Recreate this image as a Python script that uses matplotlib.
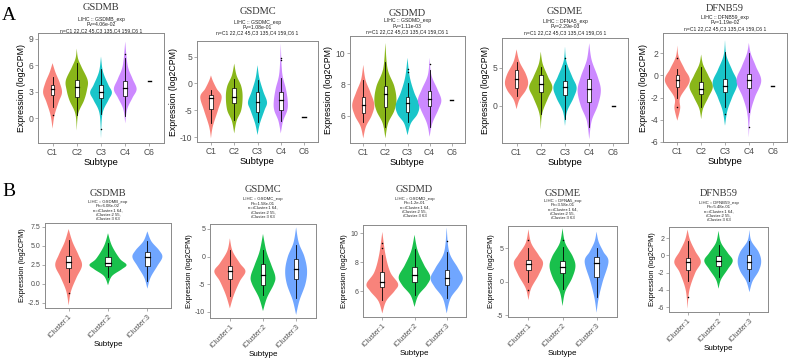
import numpy as np
import matplotlib
matplotlib.use("Agg")
import matplotlib.pyplot as plt

plt.rcParams["font.family"] = ["Liberation Sans", "DejaVu Sans"]
plt.rcParams["axes.unicode_minus"] = False

# ---- data ----
a_categories = ["C1", "C2", "C3", "C4", "C6"]
b_categories = ["iCluster:1", "iCluster:2", "iCluster:3"]
genes = ["GSDMB", "GSDMC", "GSDMD", "GSDME", "DFNB59"]
exp_names = ["GSDMB_exp", "GSDMC_exp", "GSDMD_exp", "DFNA5_exp", "DFNB59_exp"]
a_pvalues = ["4.06e-02", "1.08e-01", "1.11e-03", "2.29e-03", "1.19e-02"]
b_pvalues = ["6.08e-02", "1.58e-01", "1.2e-01", "3.58e-01", "5.48e-01"]
a_counts = "n=C1 22,C2 45,C3 135,C4 159,C6 1"
b_counts = "n=iCluster:1 64,\niCluster:2 55,\niCluster:3 63"

# violin outlines: (value, half width) knots from bottom tip to top tip
gsdmb_a_violin = [
    [[-1.2, 0], [0.3, 0.08], [1.8, 0.25], [2.9, 0.39], [4.0, 0.3], [5.2, 0.12], [6.25, 0]],
    [[-1.4, 0], [0.5, 0.06], [2.0, 0.3], [3.2, 0.42], [4.3, 0.45], [5.8, 0.2], [6.8, 0.05], [7.9, 0]],
    [[-2.3, 0], [0.5, 0.06], [2.0, 0.3], [2.9, 0.45], [3.8, 0.3], [5.3, 0.08], [7.0, 0]],
    [[-0.6, 0], [1.0, 0.08], [2.3, 0.3], [3.3, 0.47], [4.5, 0.3], [6.0, 0.1], [8.7, 0]],
]
gsdmc_a_violin = [
    [[-10.2, 0], [-8, 0.08], [-5, 0.3], [-2.5, 0.46], [-1, 0.25], [0.5, 0.08], [1.5, 0]],
    [[-9.3, 0], [-7, 0.1], [-5, 0.3], [-2.5, 0.36], [-0.5, 0.3], [1.5, 0.1], [3.7, 0]],
    [[-9.6, 0], [-7.5, 0.1], [-5, 0.3], [-3.5, 0.41], [-1.5, 0.25], [1, 0.08], [3.4, 0]],
    [[-9.3, 0], [-7, 0.1], [-5, 0.28], [-3.3, 0.3], [-1.0, 0.22], [2, 0.06], [7.4, 0]],
]
gsdmd_a_violin = [
    [[4.55, 0], [5.3, 0.12], [6.0, 0.38], [6.7, 0.5], [7.5, 0.32], [8.3, 0.1], [9.25, 0]],
    [[4.55, 0], [5.5, 0.12], [6.3, 0.4], [7.0, 0.5], [7.9, 0.4], [9.0, 0.1], [10.65, 0]],
    [[4.75, 0], [5.5, 0.15], [6.1, 0.45], [6.7, 0.53], [7.5, 0.3], [8.5, 0.1], [9.7, 0]],
    [[4.65, 0], [5.5, 0.12], [6.4, 0.4], [7.0, 0.53], [7.7, 0.35], [8.6, 0.08], [9.7, 0]],
]
gsdme_a_violin = [
    [[-0.45, 0], [0.8, 0.12], [2.0, 0.38], [3.0, 0.48], [4.2, 0.38], [5.8, 0.12], [7.4, 0]],
    [[-3.1, 0], [-1, 0.06], [1.0, 0.3], [2.4, 0.48], [3.8, 0.3], [5.5, 0.08], [7.1, 0]],
    [[-2.65, 0], [-0.8, 0.08], [1.0, 0.35], [2.4, 0.48], [3.8, 0.3], [5.8, 0.06], [7.75, 0]],
    [[-4.4, 0], [-2, 0.1], [0, 0.35], [2.0, 0.48], [3.8, 0.35], [6.0, 0.1], [8.2, 0]],
]
dfnb59_a_violin = [
    [[-4.1, 0], [-3.0, 0.12], [-2.0, 0.12], [-0.5, 0.52], [0.6, 0.3], [1.7, 0.06], [2.7, 0]],
    [[-3.95, 0], [-3.0, 0.08], [-2.0, 0.3], [-1.0, 0.49], [0, 0.3], [1.0, 0.08], [1.9, 0]],
    [[-4.55, 0], [-3.2, 0.1], [-2.0, 0.3], [-0.7, 0.52], [0.5, 0.3], [1.8, 0.06], [3.2, 0]],
    [[-5.6, 0], [-3.5, 0.06], [-2.0, 0.25], [-0.5, 0.52], [0.8, 0.3], [2.0, 0.08], [2.95, 0]],
]
gsdmb_b_violin = [
    [[-2.85, 0], [-1, 0.06], [0.8, 0.2], [2.4, 0.34], [3.8, 0.25], [5.5, 0.1], [7.2, 0]],
    [[-0.2, 0], [1.0, 0.1], [1.9, 0.35], [2.5, 0.47], [3.3, 0.3], [5.0, 0.1], [6.65, 0]],
    [[-0.65, 0], [0.8, 0.08], [2.3, 0.25], [3.5, 0.38], [4.4, 0.3], [5.6, 0.1], [6.9, 0]],
]
gsdmc_b_violin = [
    [[-9.4, 0], [-7, 0.12], [-4.5, 0.3], [-2.7, 0.47], [-1.2, 0.3], [1.0, 0.08], [3.3, 0]],
    [[-9.9, 0], [-7.5, 0.12], [-5, 0.33], [-3.6, 0.37], [-1.5, 0.25], [1, 0.1], [4.1, 0]],
    [[-10.6, 0], [-8, 0.1], [-5, 0.28], [-2.5, 0.33], [0, 0.25], [2.5, 0.08], [5.3, 0]],
]
gsdmd_b_violin = [
    [[4.45, 0], [5.3, 0.12], [6.0, 0.38], [6.5, 0.49], [7.3, 0.25], [8.5, 0.1], [10.1, 0]],
    [[4.9, 0], [5.7, 0.12], [6.4, 0.38], [7.0, 0.49], [7.8, 0.3], [8.8, 0.1], [9.9, 0]],
    [[4.45, 0], [5.5, 0.12], [6.3, 0.38], [6.9, 0.5], [7.6, 0.35], [8.7, 0.08], [10.4, 0]],
]
gsdme_b_violin = [
    [[-2.75, 0], [-1, 0.08], [1.0, 0.3], [2.75, 0.43], [4.0, 0.3], [5.8, 0.08], [7.85, 0]],
    [[-3.65, 0], [-1.5, 0.08], [0.5, 0.28], [2.3, 0.38], [3.8, 0.3], [5.8, 0.08], [8.0, 0]],
    [[-4.65, 0], [-2.5, 0.06], [0, 0.18], [3.0, 0.35], [4.5, 0.2], [6, 0.06], [7.5, 0]],
]
dfnb59_b_violin = [
    [[-6.15, 0], [-4, 0.06], [-2.0, 0.25], [-0.75, 0.43], [0.5, 0.25], [1.8, 0.08], [3.0, 0]],
    [[-3.85, 0], [-2.8, 0.08], [-1.6, 0.3], [-0.6, 0.46], [0.3, 0.3], [1.5, 0.08], [2.85, 0]],
    [[-4.25, 0], [-3.0, 0.1], [-1.8, 0.3], [-0.7, 0.38], [0.4, 0.3], [1.7, 0.06], [2.95, 0]],
]

# box stats: lower whisker, q1, median, q3, upper whisker
gsdmb_a_box = [[1.3, 2.6, 3.25, 3.75, 4.7], [0.3, 2.4, 3.55, 4.3, 6.3], [0.5, 2.3, 3.0, 3.8, 5.6], [0.2, 2.5, 3.4, 4.2, 6.8]]
gsdmc_a_box = [[-7.4, -4.8, -2.8, -2.2, -1.25], [-6.8, -3.7, -2.5, -0.9, 0.9], [-7.2, -5.3, -3.4, -1.6, 0.6], [-7.0, -5.0, -3.1, -1.6, 1.0]]
gsdmd_a_box = [[5.6, 6.2, 6.7, 7.2, 8.3], [5.3, 6.55, 7.4, 7.9, 9.45], [5.6, 6.25, 6.8, 7.2, 8.1], [5.3, 6.6, 7.05, 7.6, 8.9]]
gsdme_a_box = [[1.3, 2.35, 3.45, 4.65, 5.75], [-1.1, 1.75, 2.9, 4.0, 5.1], [-1.75, 1.35, 2.5, 3.3, 5.3], [-2.75, 0.45, 2.2, 3.5, 5.3]]
dfnb59_a_box = [[-2.0, -1.0, -0.45, 0.0, 0.6], [-2.9, -1.65, -1.2, -0.55, 0.75], [-2.9, -1.5, -0.95, -0.3, 2.1], [-3.3, -1.1, -0.45, 0.15, 2.0]]
gsdmb_b_box = [[0.2, 2.1, 2.85, 3.7, 5.7], [0.9, 2.3, 2.7, 3.5, 5.3], [0.3, 2.3, 3.5, 4.15, 5.6]]
gsdmc_b_box = [[-7.15, -4.05, -2.55, -1.7, 1.1], [-7.0, -5.1, -3.4, -1.3, 1.2], [-7.45, -4.1, -2.3, -0.5, 2.1]]
gsdmd_b_box = [[5.35, 6.3, 6.65, 7.3, 8.5], [5.7, 6.6, 7.1, 7.65, 8.95], [5.5, 6.4, 6.9, 7.45, 8.7]]
gsdme_b_box = [[0.0, 1.75, 2.65, 3.25, 5.0], [-1.15, 1.25, 2.25, 3.15, 5.25], [-2.25, 0.65, 2.85, 3.75, 5.0]]
dfnb59_b_box = [[-2.9, -1.65, -0.75, -0.25, 1.65], [-2.5, -1.2, -0.6, -0.1, 1.2], [-2.9, -1.6, -0.75, 0.05, 1.65]]

# outlier points per group
gsdmb_a_out = [[0.35], [], [-1.2], [7.3]]
gsdmc_a_out = [[], [], [], [4.3, 4.8]]
gsdmd_a_out = [[], [], [8.8, 9.0], [9.3]]
gsdme_a_out = [[], [], [6.3], []]
dfnb59_a_out = [[1.6, -2.9], [], [-3.5], [-4.7]]
gsdmb_b_out = [[-1.2], [], []]
gsdmc_b_out = [[], [], []]
gsdmd_b_out = [[9.0, 9.3], [], [9.5]]
gsdme_b_out = [[6.3, -1.2], [6.2], []]
dfnb59_b_out = [[-4.8], [], []]

# the single C6 sample in each A panel
a_c6_values = [4.2, -6.2, 7.0, 0.0, -0.97]

a_colors = ["#F8766D", "#7CAE00", "#00BFC4", "#C77CFF"]
b_colors = ["#F8766D", "#00BA38", "#619CFF"]

# ---- layout (pixels) ----
W, H = 792, 362
a_rects = [(38, 164, 33, 143), (197, 318, 41, 142), (350, 465, 36, 143), (502, 628, 38, 143), (663, 787, 33, 142)]
b_rects = [(45, 171, 223, 308), (210, 316, 224, 318), (363, 466, 225, 317), (508, 617, 226, 317), (669, 768, 227, 312)]
a_ylims = [(-2.84, 9.68), (-10.9, 7.9), (4.25, 11.1), (-4.9, 8.9), (-6.03, 3.85)]
b_ylims = [(-3.2, 8.0), (-11.15, 5.9), (4.2, 10.58), (-5.3, 8.35), (-6.55, 3.3)]
a_yticks = [[0, 3, 6, 9], [-10, -5, 0, 5], [6, 8, 10], [0, 5], [-6, -4, -2, 0, 2]]
b_yticks = [[-2.5, 0, 2.5, 5, 7.5], [-10, -5, 0, 5], [6, 8, 10], [-5, 0, 5], [-6, -4, -2, 0, 2]]
a_title_y = [7, 11.7, 13.3, 11.7, 8.3]
a_sub_y = [25, 27.7, 26, 27, 23]
b_title_y = [193.5, 189, 189, 193.5, 193.5]
b_sub_y = [210.5, 208, 207.5, 209.5, 211.5]

a_violins = [gsdmb_a_violin, gsdmc_a_violin, gsdmd_a_violin, gsdme_a_violin, dfnb59_a_violin]
a_boxes = [gsdmb_a_box, gsdmc_a_box, gsdmd_a_box, gsdme_a_box, dfnb59_a_box]
a_outs = [gsdmb_a_out, gsdmc_a_out, gsdmd_a_out, gsdme_a_out, dfnb59_a_out]
b_violins = [gsdmb_b_violin, gsdmc_b_violin, gsdmd_b_violin, gsdme_b_violin, dfnb59_b_violin]
b_boxes = [gsdmb_b_box, gsdmc_b_box, gsdmd_b_box, gsdme_b_box, dfnb59_b_box]
b_outs = [gsdmb_b_out, gsdmc_b_out, gsdmd_b_out, gsdme_b_out, dfnb59_b_out]


def smooth(knots, n=12):
    # Catmull-Rom through the outline knots
    p = np.asarray(knots, float)
    p = np.vstack([p[0], p, p[-1]])
    t = np.linspace(0, 1, n, endpoint=False)[:, None]
    segs = []
    for i in range(1, len(p) - 2):
        p0, p1, p2, p3 = p[i - 1], p[i], p[i + 1], p[i + 2]
        segs.append(0.5 * (2 * p1 + (p2 - p0) * t + (2 * p0 - 5 * p1 + 4 * p2 - p3) * t ** 2
                           + (-p0 + 3 * p1 - 3 * p2 + p3) * t ** 3))
    segs.append(p[-2:-1])
    return np.vstack(segs)


def draw_violin(ax, x, knots, box, outs, color, bw):
    c = smooth(knots)
    y, w = c[:, 0], np.clip(c[:, 1], 0, None)
    ax.fill(np.concatenate([x + w, (x - w)[::-1]]), np.concatenate([y, y[::-1]]),
            color=color, alpha=0.9, lw=0, zorder=2)
    lo, q1, med, q3, hi = box
    ax.plot([x, x], [lo, q1], color="black", lw=0.6, zorder=3)
    ax.plot([x, x], [q3, hi], color="black", lw=0.6, zorder=3)
    ax.add_patch(plt.Rectangle((x - bw / 2, q1), bw, q3 - q1, facecolor="white",
                               edgecolor="black", lw=0.5, zorder=4))
    ax.plot([x - bw / 2, x + bw / 2], [med, med], color="black", lw=0.9, zorder=5)
    if outs:
        ax.scatter([x] * len(outs), outs, s=1.2, color="black", zorder=5, lw=0)


def style_axes(ax, fs_tick, fs_label):
    for s in ax.spines.values():
        s.set_color("#8a8a8a")
        s.set_linewidth(0.7)
    ax.tick_params(colors="#8a8a8a", length=2, width=0.5, labelsize=fs_tick, labelcolor="#4d4d4d", pad=1.5)
    ax.set_ylabel("Expression (log2CPM)", fontsize=fs_label, labelpad=1.5)
    ax.set_xlabel("Subtype", fontsize=fs_label + 0.5, labelpad=1)


def rect(r):
    l, rr, t, b = r
    return [l / W, 1 - b / H, (rr - l) / W, (b - t) / H]


fig = plt.figure(figsize=(W / 100, H / 100), dpi=100)
serif = ["Liberation Serif", "DejaVu Serif"]

for i in range(5):
    ax = fig.add_axes(rect(a_rects[i]))
    xs = np.arange(1, len(a_categories) + 1)
    for j in range(4):
        draw_violin(ax, xs[j], a_violins[i][j], a_boxes[i][j], a_outs[i][j], a_colors[j], 0.15)
    ax.plot([xs[4] - 0.07, xs[4] + 0.07], [a_c6_values[i]] * 2, color="black", lw=1.0, zorder=5)
    ax.set_xlim(0.4, len(a_categories) + 0.6)
    ax.set_ylim(*a_ylims[i])
    ax.set_xticks(xs)
    ax.set_xticklabels(a_categories)
    ax.set_yticks(a_yticks[i])
    style_axes(ax, 6.2, 6.3)
    cx = (a_rects[i][0] + a_rects[i][1]) / 2 / W
    fig.text(cx, 1 - a_title_y[i] / H, genes[i], ha="center", va="center",
             fontsize=7.5, family=serif, color="#333333")
    fig.text(cx, 1 - a_sub_y[i] / H, "LIHC :: %s\nPv=%s\n%s" % (exp_names[i], a_pvalues[i], a_counts),
             ha="center", va="center", fontsize=3.7, linespacing=1.1, color="#222222")

for i in range(5):
    ax = fig.add_axes(rect(b_rects[i]))
    xs = np.arange(1, len(b_categories) + 1)
    for j in range(3):
        draw_violin(ax, xs[j], b_violins[i][j], b_boxes[i][j], b_outs[i][j], b_colors[j], 0.13)
    ax.set_xlim(0.4, len(b_categories) + 0.6)
    ax.set_ylim(*b_ylims[i])
    ax.set_xticks(xs)
    ax.set_xticklabels(b_categories, rotation=45, ha="right", rotation_mode="anchor")
    ax.set_yticks(b_yticks[i])
    if i == 0:
        ax.set_yticklabels(["%.1f" % v for v in b_yticks[i]])
    style_axes(ax, 5.0, 5.3)
    cx = (b_rects[i][0] + b_rects[i][1]) / 2 / W
    fig.text(cx, 1 - b_title_y[i] / H, genes[i], ha="center", va="center",
             fontsize=7.5, family=serif, color="#333333")
    fig.text(cx, 1 - b_sub_y[i] / H, "LIHC :: %s\nPv=%s\n%s" % (exp_names[i], b_pvalues[i], b_counts),
             ha="center", va="center", fontsize=3.1, linespacing=1.15, color="#222222")

fig.text(9 / W, 1 - 16 / H, "A", fontsize=14, family=serif, ha="center", va="center")
fig.text(9 / W, 1 - 192 / H, "B", fontsize=14, family=serif, ha="center", va="center")

fig.savefig("out.png", dpi=100)
